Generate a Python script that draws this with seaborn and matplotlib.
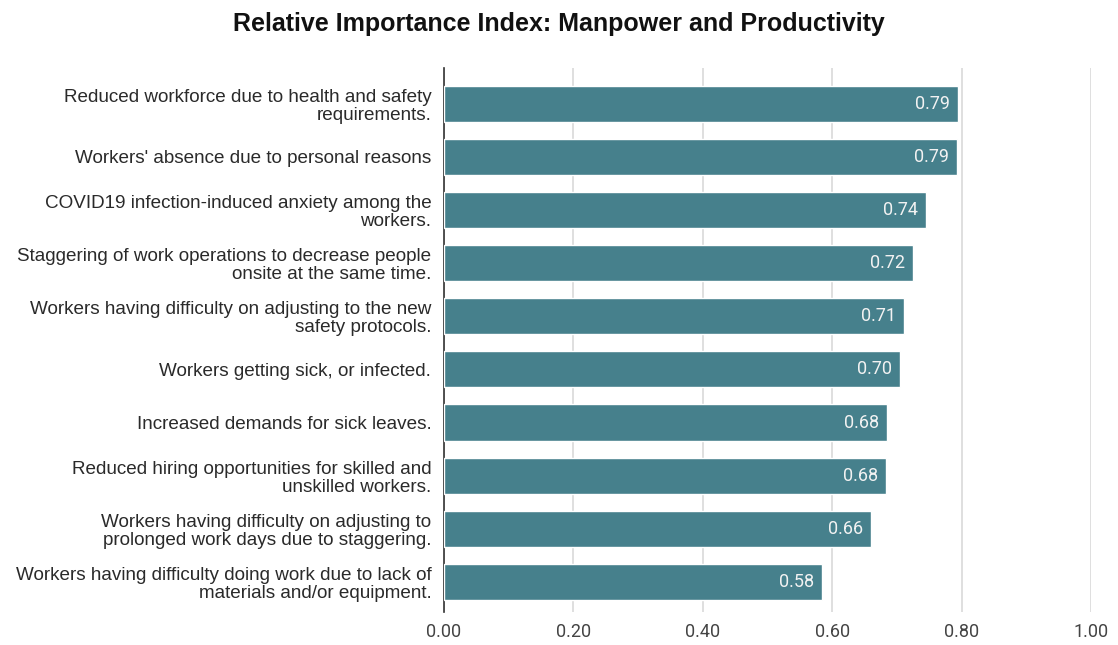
import matplotlib
matplotlib.use("Agg")
import matplotlib.pyplot as plt
import seaborn as sns
import pandas as pd

categories = [
    "Reduced workforce due to health and safety\nrequirements.",
    "Workers' absence due to personal reasons",
    "COVID19 infection-induced anxiety among the\nworkers.",
    "Staggering of work operations to decrease people\nonsite at the same time.",
    "Workers having difficulty on adjusting to the new\nsafety protocols.",
    "Workers getting sick, or infected.",
    "Increased demands for sick leaves.",
    "Reduced hiring opportunities for skilled and\nunskilled workers.",
    "Workers having difficulty on adjusting to\nprolonged work days due to staggering.",
    "Workers having difficulty doing work due to lack of\nmaterials and/or equipment.",
]
values = [0.794, 0.793, 0.745, 0.725, 0.711, 0.705, 0.684, 0.683, 0.660, 0.584]
xticks = [0.0, 0.2, 0.4, 0.6, 0.8, 1.0]
title = "Relative Importance Index: Manpower and Productivity"

df = pd.DataFrame({"cat": categories, "val": values})

sns.set_theme(style="white")
plt.rcParams["font.family"] = ["Roboto", "DejaVu Sans"]

fig = plt.figure(figsize=(11.18, 6.45), dpi=100)
ax = fig.add_axes([0.397, 0.051, 0.579, 0.844])

sns.barplot(data=df, x="val", y="cat", color="#46808c", saturation=1,
            width=0.68, ax=ax, orient="h", zorder=3)

for i, v in enumerate(values):
    ax.text(v - 0.012, i, f"{v:.2f}", ha="right", va="center",
            color="#f2f2f2", fontsize=13, zorder=4)

ax.set_xlim(0, 1.0)
ax.set_ylim(9.57, -0.68)
ax.set_xticks(xticks)
ax.set_xticklabels([f"{t:.2f}" for t in xticks], fontsize=13, color="#444444")
ax.tick_params(axis="y", length=0, pad=9)
ax.tick_params(axis="x", length=0, pad=8)
for lbl in ax.get_yticklabels():
    lbl.set_horizontalalignment("right")
    lbl.set_multialignment("right")
    lbl.set_family(["Liberation Sans", "DejaVu Sans"])
    lbl.set_fontsize(13.6)
    lbl.set_color("#2a2a2a")
    lbl.set_linespacing(1.08)
ax.set_xlabel("")
ax.set_ylabel("")
ax.grid(axis="x", color="#d9d9d9", linewidth=1.2, zorder=0)
for s in ["top", "right", "bottom"]:
    ax.spines[s].set_visible(False)
ax.spines["left"].set_color("#333333")
ax.spines["left"].set_linewidth(1.2)

fig.text(0.5, 0.963, title, ha="center", va="center", fontsize=18,
         fontweight="bold", family=["Liberation Sans", "DejaVu Sans"], color="#111111")

fig.savefig("out.png", dpi=100)
